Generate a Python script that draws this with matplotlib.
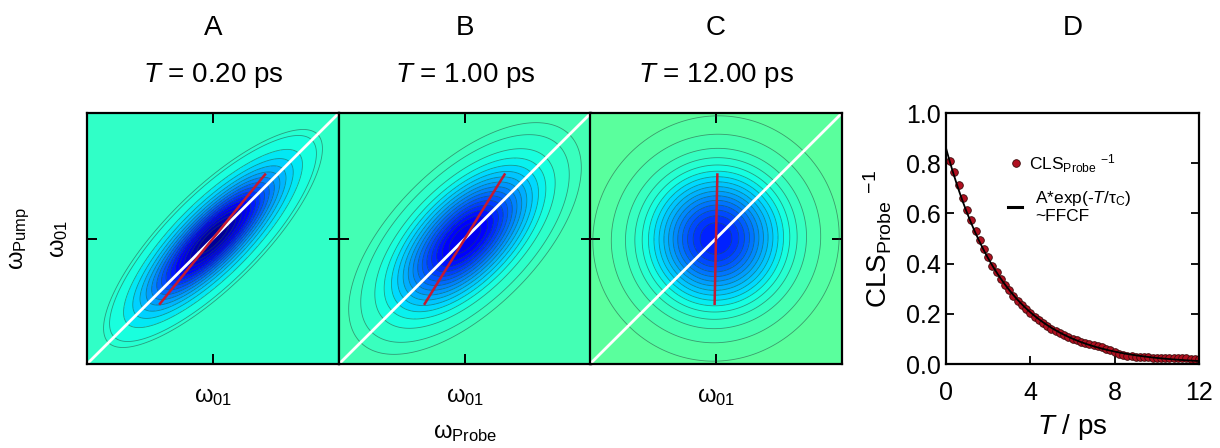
import numpy as np
import matplotlib
matplotlib.use('Agg')
import matplotlib.pyplot as plt
from matplotlib.colors import Normalize

plt.rcParams['font.family'] = ['Liberation Sans', 'DejaVu Sans']
plt.rcParams['mathtext.fontset'] = 'custom'
plt.rcParams['mathtext.rm'] = 'Liberation Sans'
plt.rcParams['mathtext.it'] = 'Liberation Sans:italic'
plt.rcParams['mathtext.bf'] = 'Liberation Sans:bold'

# waiting times of the three 2D spectra
panel_names = ['A', 'B', 'C']
waiting_T = [0.20, 1.00, 12.00]

# inverse centre line slope vs waiting time
T_ps = [0.2, 0.4, 0.6, 0.8, 1.0, 1.2, 1.4, 1.6, 1.8, 2.0,
        2.2, 2.4, 2.6, 2.8, 3.0, 3.2, 3.4, 3.6, 3.8, 4.0,
        4.2, 4.4, 4.6, 4.8, 5.0, 5.2, 5.4, 5.6, 5.8, 6.0,
        6.2, 6.4, 6.6, 6.8, 7.0, 7.2, 7.4, 7.6, 7.8, 8.0,
        8.2, 8.4, 8.6, 8.8, 9.0, 9.2, 9.4, 9.6, 9.8, 10.0,
        10.2, 10.4, 10.6, 10.8, 11.0, 11.2, 11.4, 11.6, 11.8, 12.0]
cls_inv = [0.810, 0.765, 0.715, 0.662, 0.615, 0.572, 0.530, 0.494, 0.458, 0.425,
           0.392, 0.365, 0.340, 0.316, 0.294, 0.272, 0.252, 0.235, 0.218, 0.203,
           0.188, 0.174, 0.162, 0.151, 0.140, 0.131, 0.122, 0.114, 0.107, 0.100,
           0.094, 0.089, 0.084, 0.079, 0.075, 0.071, 0.066, 0.060, 0.054, 0.047,
           0.041, 0.036, 0.032, 0.030, 0.028, 0.027, 0.026, 0.026, 0.025, 0.025,
           0.024, 0.024, 0.023, 0.023, 0.022, 0.022, 0.022, 0.021, 0.021, 0.021]

# exponential fit parameters (A, tau_c in ps)
A_fit = 0.86
tau_c = 2.8

# lineshape widths (inhomogeneous gaussian, homogeneous sech)
sig_inh = 0.33
gam_hom = 0.08

# jet positions of the peak and of the baseline for each panel
peak_pos = [0.02, 0.10, 0.16]
base_pos = [0.41, 0.43, 0.46]
# lowest contour drawn in each panel (fraction of the peak)
low_level = [-0.045, -0.032, -0.022]

n_lev = 16


def spectrum(rho, x):
    X, Y = np.meshgrid(x, x)
    G = np.exp(-(X**2 + Y**2 - 2 * rho * X * Y) / (2 * sig_inh**2 * (1 - rho**2)))
    K = 1.0 / np.cosh((x[:, None] - x[None, :]) / gam_hom)
    S = K @ G @ K.T
    return -S / S.max()


fig = plt.figure(figsize=(12.2, 4.48), dpi=100)
lefts = [87, 339, 590]
bot = (448 - 364) / 448.
hgt = 251 / 448.
wid = 252 / 1220.

x = np.linspace(-2, 2, 401)
var_h = (np.pi * gam_hom / 2) ** 2
tick_kw = dict(direction='in', length=7, width=1.4)

for i in range(3):
    ax = fig.add_axes([lefts[i] / 1220., bot, wid, hgt])
    cls_val = cls_inv[T_ps.index(waiting_T[i])]
    rho = min(cls_val * (sig_inh**2 + var_h) / sig_inh**2, 0.995)
    Z = spectrum(rho, x)
    levels = np.append(np.linspace(-1, -1.0 / n_lev, n_lev), [low_level[i], 0.0])
    pa, pb = peak_pos[i], base_pos[i]
    mid_top = low_level[i] / 2
    mid_bot = -1 + 0.5 / n_lev
    scale = (pb - pa) / (mid_top - mid_bot)
    vmin = mid_bot - pa / scale
    vmax = vmin + 1 / scale
    ax.contourf(x, x, Z, levels=levels, cmap='jet', norm=Normalize(vmin, vmax))
    ax.contour(x, x, Z, levels=levels[:-1], colors='#1f4a45', linewidths=0.6,
               alpha=0.55, linestyles='solid')
    ax.plot([-1, 1], [-1, 1], color='white', lw=2)
    # centre line: probe position of the maximum along each pump slice
    yy = np.array([-0.52, 0.51])
    ax.plot(cls_val * yy, yy, color='#c41a32', lw=1.8)
    ax.set_xlim(-1, 1)
    ax.set_ylim(-1, 1)
    ax.set_xticks([0])
    ax.set_xticklabels([r'ω$_{01}$'], fontsize=17)
    ax.set_yticks([0])
    if i == 0:
        ax.set_yticklabels([r'ω$_{01}$'], fontsize=17, rotation=90, va='center')
        ax.set_ylabel(r'ω$_{\mathrm{Pump}}$', fontsize=17, labelpad=12)
    else:
        ax.set_yticklabels([])
    if i == 1:
        ax.set_xlabel(r'ω$_{\mathrm{Probe}}$', fontsize=17, labelpad=10)
    ax.tick_params(which='both', top=True, right=True, pad=12, **tick_kw)
    ax.tick_params(axis='x', pad=16)
    for sp in ax.spines.values():
        sp.set_linewidth(1.6)
    ax.text(0.5, 1.339, panel_names[i], transform=ax.transAxes, ha='center', va='center', fontsize=20)
    ax.text(0.5, 1.151, r'$T$ = %.2f ps' % waiting_T[i], transform=ax.transAxes,
            ha='center', va='center', fontsize=20)

# panel D: decay of the inverse CLS
axd = fig.add_axes([946 / 1220., bot, 253 / 1220., hgt])
t_fit = np.linspace(0, 12, 300)
axd.plot(T_ps, cls_inv, 'o', ms=5.5, mfc='#b01020', mec='#3a0a0a', mew=0.6, zorder=2)
axd.plot(t_fit, A_fit * np.exp(-t_fit / tau_c), color='black', lw=1.3, zorder=3)
axd.set_xlim(0, 12)
axd.set_ylim(0, 1.0)
axd.set_xticks([0, 4, 8, 12])
axd.set_yticks([0, 0.2, 0.4, 0.6, 0.8, 1.0])
axd.set_yticklabels(['0.0', '0.2', '0.4', '0.6', '0.8', '1.0'])
axd.tick_params(labelsize=18, right=True, direction='in', length=6, width=1.3)
axd.tick_params(axis='x', pad=12)
for sp in axd.spines.values():
    sp.set_linewidth(1.6)
axd.set_xlabel(r'$T$ / ps', fontsize=20, labelpad=5)
axd.set_ylabel(r'CLS$_{\mathrm{Probe}}$ $^{-1}$', fontsize=20, labelpad=9)
axd.text(0.5, 1.339, 'D', transform=axd.transAxes, ha='center', va='center', fontsize=20)

# legend drawn by hand
axd.plot([0.275], [0.80], 'o', ms=5.5, mfc='#b01020', mec='#3a0a0a', mew=0.6,
         transform=axd.transAxes, clip_on=False)
axd.plot([0.246, 0.299], [0.627, 0.627], color='black', lw=2.2, transform=axd.transAxes)
axd.text(0.33, 0.80, r'CLS$_{\mathrm{Probe}}$ $^{-1}$', transform=axd.transAxes,
         fontsize=12.5, va='center')
axd.text(0.352, 0.66, r'A*exp(-$T$/τ$_{\mathrm{C}}$)', transform=axd.transAxes,
         fontsize=12.5, va='center')
axd.text(0.352, 0.587, '~FFCF', transform=axd.transAxes, fontsize=12.5, va='center')

fig.savefig('out.png', dpi=100)
